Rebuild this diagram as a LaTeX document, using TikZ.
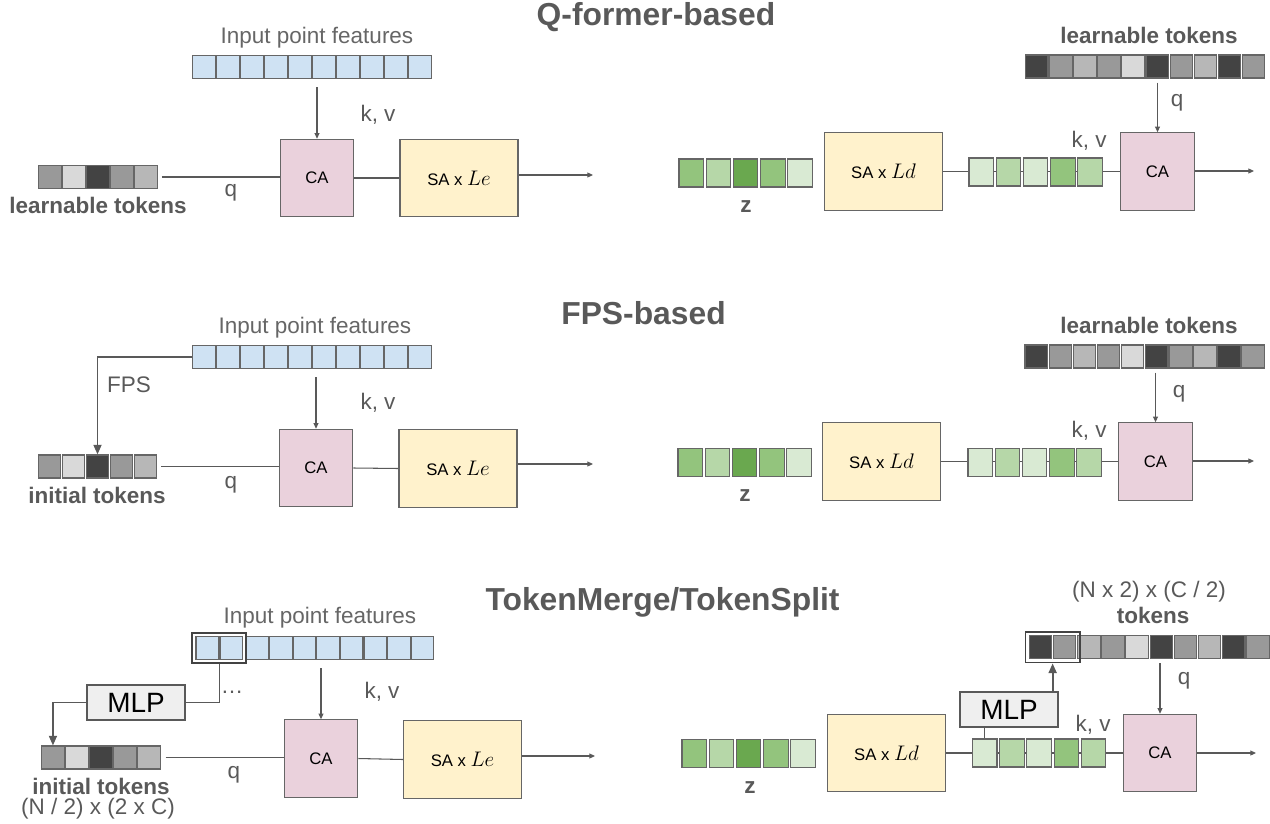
\documentclass[tikz,border=0pt]{standalone}
\usepackage{fontspec}
\setmainfont{Liberation Sans}
\usetikzlibrary{arrows.meta,fit}
\definecolor{txtgray}{HTML}{595959}
\definecolor{txtlight}{HTML}{666666}
\definecolor{boxgray}{HTML}{666666}
\definecolor{blue1}{HTML}{CFE2F3}
\definecolor{pink1}{HTML}{EAD1DC}
\definecolor{yellow1}{HTML}{FFF2CC}
\definecolor{mlpfill}{HTML}{EFEFEF}
\definecolor{gray1}{HTML}{434343}
\definecolor{gray2}{HTML}{999999}
\definecolor{gray3}{HTML}{B7B7B7}
\definecolor{gray4}{HTML}{D9D9D9}
\definecolor{green1}{HTML}{6AA84F}
\definecolor{green2}{HTML}{93C47D}
\definecolor{green3}{HTML}{B6D7A8}
\definecolor{green4}{HTML}{D9EAD3}

\begin{document}
\begin{tikzpicture}[x=0.02cm,y=-0.02cm,
    cell/.style={draw=boxgray, line width=0.6pt, minimum width=0.45cm, minimum height=0.46cm, inner sep=0pt},
    gcell/.style={cell, minimum width=0.49cm, minimum height=0.56cm},
    block/.style={draw=boxgray, line width=0.6pt, minimum height=1.55cm, inner sep=0pt, font=\fontsize{9.5}{11}\selectfont},
    ca/.style={block, fill=pink1, minimum width=1.47cm},
    sa/.style={block, fill=yellow1, minimum width=2.36cm},
    mlp/.style={draw=txtgray, fill=mlpfill, line width=0.9pt, minimum width=1.96cm, minimum height=0.7cm, inner sep=0pt, font=\fontsize{15.9}{18}\selectfont},
    lbl/.style={text=txtgray, inner sep=0pt, font=\fontsize{12.8}{15}\selectfont},
    blbl/.style={lbl, font=\fontsize{12.8}{15}\selectfont\bfseries},
    ttl/.style={text=txtgray, inner sep=0pt, font=\fontsize{18.1}{21}\selectfont\bfseries},
    conn/.style={draw=txtgray, line width=0.6pt},
    arr/.style={conn, -{Triangle[length=3.2pt,width=2.8pt]}},
    fat/.style={draw=txtgray, line width=1.1pt, -{Triangle[length=5.5pt,width=4.5pt]}},
    sel/.style={draw=gray1, line width=0.9pt, inner sep=0.065cm}]
\useasboundingbox (0,0) rectangle (1270,824);

% Q-former-based
\node[ttl] (qftitle) at (656,17) {Q-former-based};
\node[lbl, text=txtlight] (qfinput) at (317,38) {Input point features};
\foreach \i in {1,...,10}
    \node[cell, fill=blue1] (qfin\i) at ({192+24*\i-12},67) {};
\foreach \c [count=\i] in {gray2,gray4,gray1,gray2,gray3}
    \node[cell, fill=\c] (qftok\i) at ({38+24*\i-12},177) {};
\node[blbl] (qflearn) at (98,205) {learnable tokens};
\node[ca] (qfca) at (317,178) {CA};
\node[sa] (qfsa) at (459,178) {SA x \fontsize{12}{14}\selectfont$Le$};
\node[lbl] (qfkv) at (378,115) {k, v};
\node[lbl] (qfq) at (231,193) {q};
\draw[arr, shorten <=0.16cm] (qfin6.south -| qfca.north) -- (qfca.north);
\draw[conn, shorten <=0.08cm] (qftok5.east) -- (qftok5.east -| qfca.west);
\draw[conn] (qfca.east) -- (qfsa.west);
\coordinate (qfout) at (593,175);
\draw[arr] (qfsa.east |- qfout) -- (qfout);

\node[blbl] (qflearnd) at (1149,35) {learnable tokens};
\foreach \c [count=\i] in {gray1,gray2,gray3,gray2,gray4,gray1,gray2,gray3,gray1,gray2}
    \node[cell, fill=\c] (qflt\i) at ({1025.5+24.1*\i-12.85},66.5) {};
\foreach \c [count=\i] in {green2,green3,green1,green2,green4}
    \node[gcell, fill=\c] (qfz\i) at ({679+27.2*\i-14.95},173) {};
\node[blbl] (qfzl) at (746,207) {z};
\node[sa] (qfsad) at (883.5,171.5) {SA x \fontsize{12}{14}\selectfont$Ld$};
\node[ca] (qfcad) at (1157.5,171.5) {CA};
\draw[conn] (qfsad.east) -- (qfcad.west);
\foreach \c [count=\i] in {green4,green3,green4,green2,green3}
    \node[gcell, fill=\c] (qfg\i) at ({969+27.2*\i-14.95},172) {};
\node[lbl] (qfkvd) at (1089,141) {k, v};
\node[lbl] (qfqd) at (1177,103) {q};
\draw[arr, shorten <=0.08cm] (qfcad.north |- qflt6.south) -- (qfcad.north);
\coordinate (qfoutd) at (1254,171);
\draw[arr] (qfcad.east |- qfoutd) -- (qfoutd);

% FPS-based
\node[ttl] (fpstitle) at (643.5,313.5) {FPS-based};
\node[lbl, text=txtlight] (fpsinput) at (315,328) {Input point features};
\foreach \i in {1,...,10}
    \node[cell, fill=blue1] (fpsin\i) at ({192+24*\i-12},357) {};
\foreach \c [count=\i] in {gray2,gray4,gray1,gray2,gray3}
    \node[cell, fill=\c] (fpstok\i) at ({37.5+24*\i-12},466.5) {};
\node[blbl] (fpsinit) at (97,495) {initial tokens};
\node[ca] (fpsca) at (316,468) {CA};
\node[sa] (fpssa) at (458,468.5) {SA x \fontsize{12}{14}\selectfont$Le$};
\node[lbl] (fpskv) at (378,403) {k, v};
\node[lbl] (fpsq) at (231,485) {q};
\node[lbl] (fpsl) at (129,385) {FPS};
\draw[fat] (fpsin1.west) -| (fpstok3.north);
\draw[arr, shorten <=0.16cm] (fpsin6.south -| fpsca.north) -- (fpsca.north);
\draw[conn, shorten <=0.08cm] (fpstok5.east) -- (fpstok5.east -| fpsca.west);
\draw[conn] (fpsca.east) -- (fpssa.west);
\coordinate (fpsout) at (593,464);
\draw[arr] (fpssa.east |- fpsout) -- (fpsout);

\node[blbl] (fpslearnd) at (1149,325) {learnable tokens};
\foreach \c [count=\i] in {gray1,gray2,gray3,gray2,gray4,gray1,gray2,gray3,gray1,gray2}
    \node[cell, fill=\c] (fpslt\i) at ({1025+24.1*\i-12.85},356.5) {};
\foreach \c [count=\i] in {green2,green3,green1,green2,green4}
    \node[gcell, fill=\c] (fpsz\i) at ({678+27.2*\i-14.95},462.5) {};
\node[blbl] (fpszl) at (745,496) {z};
\node[sa] (fpssad) at (881.5,461.5) {SA x \fontsize{12}{14}\selectfont$Ld$};
\node[ca] (fpscad) at (1155.5,461.5) {CA};
\draw[conn] (fpssad.east) -- (fpscad.west);
\foreach \c [count=\i] in {green4,green3,green4,green2,green3}
    \node[gcell, fill=\c] (fpsg\i) at ({968+27.2*\i-14.95},462.5) {};
\node[lbl] (fpskvd) at (1089,431) {k, v};
\node[lbl] (fpsqd) at (1179,394) {q};
\draw[arr, shorten <=0.08cm] (fpscad.north |- fpslt6.south) -- (fpscad.north);
\coordinate (fpsoutd) at (1254,461);
\draw[arr] (fpscad.east |- fpsoutd) -- (fpsoutd);

% TokenMerge/TokenSplit
\node[ttl] (tmtitle) at (662.5,602.5) {TokenMerge/TokenSplit};
\node[lbl, text=txtlight] (tminput) at (320,618) {Input point features};
\foreach \i in {1,2}
    \node[cell, fill=blue1] (tmin\i) at ({196+24*\i-12.75},648) {};
\foreach \i in {3,...,10}
    \node[cell, fill=blue1] (tmin\i) at ({246+23.6*(\i-3)+11.25},648) {};
\node[sel, fit=(tmin1)(tmin2)] (tmsel) {};
\foreach \c [count=\i] in {gray2,gray4,gray1,gray2,gray3}
    \node[cell, fill=\c] (tmtok\i) at ({41.7+24*\i-12.75},757.5) {};
\node[blbl] (tminit) at (101,786) {initial tokens};
\node[lbl] (tmsize) at (98,809) {(N / 2) x (2 x C)};
\node[mlp] (tmmlp) at (136,702.5) {MLP};
\node[lbl] (tmdots) at (232,692) {\dots};
\draw[conn] (tmsel.south) |- (tmmlp.east);
\draw[fat] (tmmlp.west) -| (tmtok1.north);
\node[ca] (tmca) at (321,758.5) {CA};
\node[sa] (tmsa) at (462.5,759.5) {SA x \fontsize{12}{14}\selectfont$Le$};
\node[lbl] (tmkv) at (382,692) {k, v};
\node[lbl] (tmq) at (234,775) {q};
\draw[arr, shorten <=0.16cm] (tmin6.south -| tmca.north) -- (tmca.north);
\draw[conn, shorten <=0.1cm] (tmtok5.east) -- (tmtok5.east -| tmca.west);
\draw[conn] (tmca.east) -- (tmsa.west);
\coordinate (tmout) at (595,756);
\draw[arr] (tmsa.east |- tmout) -- (tmout);

\node[lbl] (tmsized) at (1149,592) {(N x 2) x (C / 2)};
\node[blbl] (tmtokens) at (1153,615) {tokens};
\foreach \c [count=\i] in {gray1,gray2,gray3,gray2,gray4,gray1,gray2,gray3,gray1,gray2}
    \node[cell, fill=\c] (tmlt\i) at ({1029.3+24.15*\i-12.9},647.3) {};
\node[sel, fit=(tmlt1)(tmlt2)] (tmseld) {};
\foreach \c [count=\i] in {green2,green3,green1,green2,green4}
    \node[gcell, fill=\c] (tmz\i) at ({682+27.2*\i-14.95},753.5) {};
\node[blbl] (tmzl) at (750,788) {z};
\node[sa] (tmsad) at (886.5,753) {SA x \fontsize{12}{14}\selectfont$Ld$};
\node[ca] (tmcad) at (1160,753) {CA};
\draw[conn] (tmsad.east) -- (tmcad.west);
\foreach \c [count=\i] in {green4,green3,green4,green2,green3}
    \node[gcell, fill=\c] (tmg\i) at ({972.5+27.2*\i-14.95},753) {};
\node[mlp] (tmmlpd) at (1009,709.5) {MLP};
\draw[conn] (tmg1.north) -- (tmg1.north |- tmmlpd.south);
\draw[fat] (tmmlpd.north -| tmseld.south) -- (tmseld.south);
\node[lbl] (tmkvd) at (1093,725) {k, v};
\node[lbl] (tmqd) at (1184,681) {q};
\draw[arr, shorten <=0.08cm] (tmcad.north |- tmlt6.south) -- (tmcad.north);
\coordinate (tmoutd) at (1256,753);
\draw[arr] (tmcad.east |- tmoutd) -- (tmoutd);
\end{tikzpicture}
\end{document}
